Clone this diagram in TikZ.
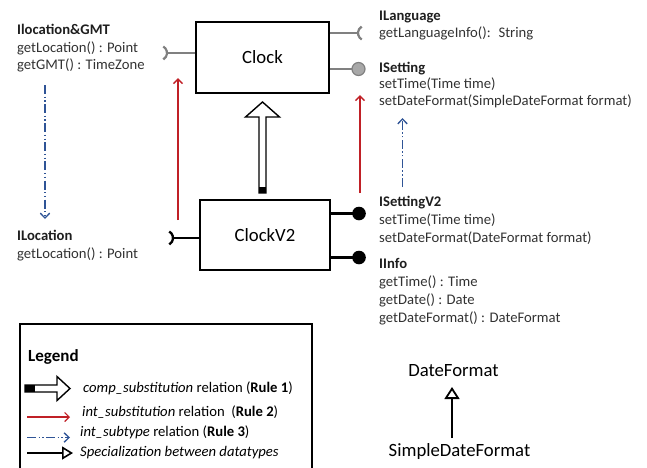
\documentclass[tikz,border=0pt]{standalone}
\usepackage{fontspec}
\setmainfont{Carlito}
\usetikzlibrary{arrows.meta,calc}
\definecolor{rrel}{RGB}{192,32,38}
\definecolor{brel}{RGB}{47,84,150}
\definecolor{portgray}{RGB}{128,128,128}
\definecolor{ballgray}{RGB}{168,168,168}
\definecolor{txtgray}{RGB}{50,50,50}
\definecolor{ttlgray}{RGB}{30,30,30}
\begin{document}
\begin{tikzpicture}[x=1pt,y=-1pt,
  comp/.style={draw=black,line width=1.6pt,inner sep=0pt,font=\fontsize{18.7}{22}\selectfont},
  ttl/.style={anchor=base west,inner sep=0pt,font=\fontsize{14.67}{17}\selectfont\bfseries,text=ttlgray},
  mtd/.style={anchor=base west,inner sep=0pt,font=\fontsize{14.67}{17}\selectfont,text=txtgray},
  lgd/.style={anchor=base west,inner sep=0pt,font=\fontsize{14.67}{17}\selectfont,text=black},
  big/.style={anchor=base,inner sep=0pt,font=\fontsize{18.7}{22}\selectfont},
  gport/.style={draw=portgray,line width=2.7pt},
  kport/.style={draw=black,line width=2.3pt},
  redarr/.style={draw=rrel,line width=1.5pt,-{Straight Barb[length=4.5pt,width=9pt]}},
  bluearr/.style={draw=brel,line width=1.3pt,dash pattern=on 9pt off 2.5pt on 1.3pt off 2.5pt on 1.3pt off 2.5pt,-{Straight Barb[length=5pt,width=9.5pt]}},
  specarr/.style={draw=black,line width=2pt,-{Triangle[open,length=12pt,width=15pt,line width=1.8pt]}},
  hollow/.style={draw=black,line width=1.4pt,fill=white,line join=miter},
]
\useasboundingbox (0,0) rectangle (647,467);

% components
\node[comp,minimum width=133pt,minimum height=71pt] (clock) at (262.5,57.5) {Clock};
\node[comp,minimum width=130pt,minimum height=70pt] (v2) at (265,235) {ClockV2};

% Clock ports
\coordinate (s1) at (167,53);
\draw[gport] (clock.west |- s1) -- (s1);
\draw[gport,line width=2.2pt] ($(s1)+(-3.75,-6.5)$) arc (-60:60:7.5);
\coordinate (s2) at (358,33);
\draw[gport] (clock.east |- s2) -- (s2);
\draw[gport,line width=2.2pt] ($(s2)+(3.75,6.5)$) arc (120:240:7.5);
\coordinate (s3) at (358.5,69);
\draw[gport] (clock.east |- s3) -- (s3);
\draw[draw=portgray,fill=ballgray,line width=1.2pt] (s3) circle (6.5);

% ClockV2 ports
\coordinate (k1) at (173,238);
\draw[kport] (v2.west |- k1) -- (k1);
\draw[kport] ($(k1)+(-3.75,-6.5)$) arc (-60:60:7.5);
\coordinate (k2) at (359,213.5);
\draw[kport] (v2.east |- k2) -- (k2);
\fill[black] (k2) circle (6.8);
\coordinate (k3) at (359,257.5);
\draw[kport] (v2.east |- k3) -- (k3);
\fill[black] (k3) circle (6.8);

% red int_substitution arrows
\coordinate (r1s) at (178,220);
\coordinate (r1e) at (178,78);
\draw[redarr] (r1s) -- (r1e);
\coordinate (r2s) at (360,193);
\coordinate (r2e) at (360,95);
\draw[redarr] (r2s) -- (r2e);

% blue int_subtype arrows
\coordinate (b1s) at (45,85);
\coordinate (b1e) at (45,219);
\draw[bluearr] (b1s) -- (b1e);
\coordinate (b2s) at (402.5,187);
\coordinate (b2e) at (402.5,118);
\draw[bluearr] (b2s) -- (b2e);

% comp_substitution hollow arrow
\coordinate (ht) at (262.5,102);
\coordinate (hb) at (262.5,193);
\draw[hollow] (ht) -- ++(-17,15) -- ++(13.5,0) -- ($(hb)+(-3.5,0)$) -- ++(7,0) -- ($(ht)+(3.5,15)$) -- ++(13.5,0) -- cycle;
\fill[black] ($(hb)+(-3.5,-6)$) rectangle ($(hb)+(3.5,0)$);

% interface texts left
\node[ttl] (t1) at (17,34) {Ilocation\&GMT};
\node[mtd] (t1a) at (17,52) {getLocation() : Point};
\node[mtd] (t1b) at (17,69.5) {getGMT() : TimeZone};
\node[ttl] (t2) at (17,240.5) {ILocation};
\node[mtd] (t2a) at (17,258) {getLocation() : Point};

% interface texts right
\node[ttl] (t3) at (379,20.5) {ILanguage};
\node[mtd] (t3a) at (379,37.5) {getLanguageInfo():~ String};
\node[ttl] (t4) at (379,72) {ISetting};
\node[mtd] (t4a) at (379,88.5) {setTime(Time time)};
\node[mtd] (t4b) at (379,105.5) {setDateFormat(SimpleDateFormat format)};
\node[ttl] (t5) at (379,206.5) {ISettingV2};
\node[mtd] (t5a) at (379,224.5) {setTime(Time time)};
\node[mtd] (t5b) at (379,242.5) {setDateFormat(DateFormat format)};
\node[ttl] (t6) at (379,268) {IInfo};
\node[mtd] (t6a) at (379,286) {getTime() : Time};
\node[mtd] (t6b) at (379,304) {getDate() : Date};
\node[mtd] (t6c) at (379,322) {getDateFormat() : DateFormat};

% datatypes
\node[big] (df) at (453.5,376) {DateFormat};
\node[big] (sdf) at (459.5,456) {SimpleDateFormat};
\draw[specarr] ($(df.base)+(-1.5,62)$) -- ($(df.base)+(-1.5,11)$);

% legend
\draw[line width=1.8pt] (20,472) -- (20,324) -- (312,324) -- (312,472);
\node[lgd,font=\fontsize{17}{20}\selectfont\bfseries] (lg) at (28,361.5) {Legend};
\coordinate (lb) at (25,388.5);
\coordinate (lt) at (70,388.5);
\draw[hollow] (lt) -- ++(-13,-12) -- ++(0,8.5) -- ($(lb)+(0,-3.5)$) -- ++(0,7) -- ($(lt)+(-13,3.5)$) -- ++(0,8.5) -- cycle;
\fill[black] ($(lb)+(0,-3.5)$) rectangle ($(lb)+(10,3.5)$);
\node[lgd] (lg1) at (83,392) {\textit{comp\_substitution} relation (\textbf{Rule 1})};
\coordinate (lr1) at (27,417);
\coordinate (lr2) at (70,417);
\draw[redarr,line width=1.2pt] (lr1) -- (lr2);
\node[lgd] (lg2) at (82,416) {\textit{int\_substitution} relation~ (\textbf{Rule 2})};
\coordinate (lb1) at (27,437.5);
\coordinate (lb2) at (70,437.5);
\draw[bluearr] (lb1) -- (lb2);
\node[lgd] (lg3) at (80,436.5) {\textit{int\_subtype} relation (\textbf{Rule 3})};
\coordinate (ls1) at (27,453);
\coordinate (ls2) at (73,453);
\draw[draw=black,line width=2.2pt,-{Triangle[open,length=11pt,width=13pt,line width=1.6pt]}] (ls1) -- (ls2);
\node[lgd] (lg4) at (80,456.5) {\textit{Specialization between datatypes}};
\end{tikzpicture}
\end{document}
